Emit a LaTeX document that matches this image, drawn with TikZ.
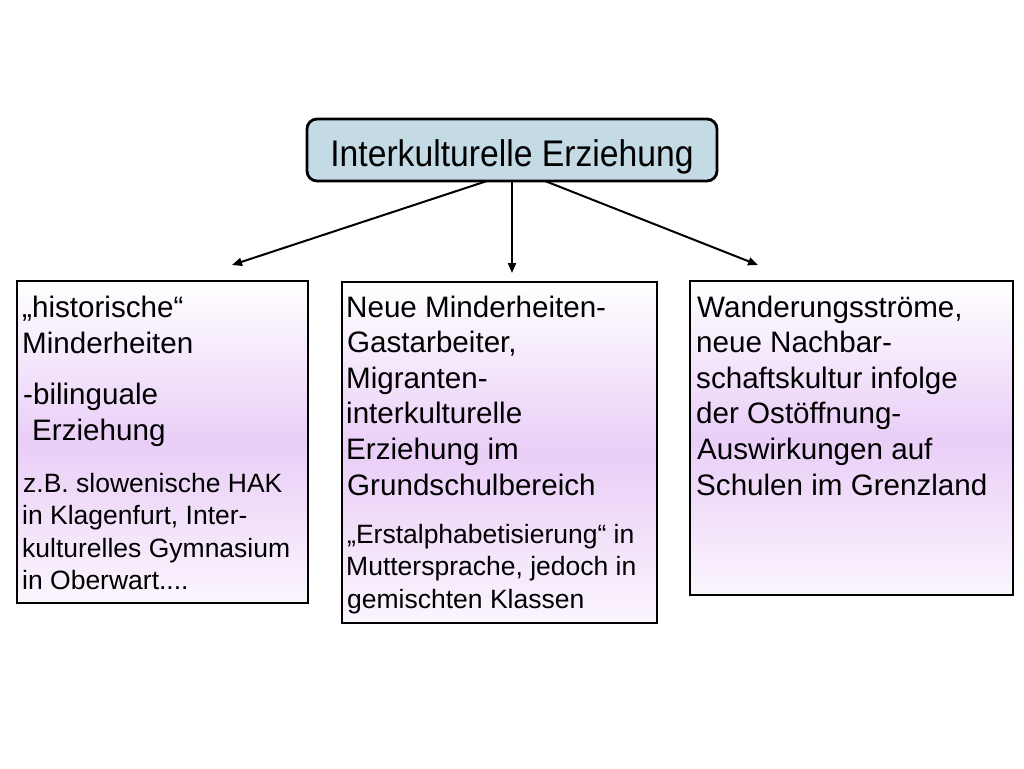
\documentclass[tikz,border=0pt]{standalone}
\usepackage{fontspec}
\setmainfont{Liberation Sans}
\usetikzlibrary{arrows.meta}
\definecolor{titlefill}{RGB}{196,219,229}
\definecolor{purmid}{RGB}{233,206,247}
\definecolor{purbot}{RGB}{251,245,253}
\begin{document}
\begin{tikzpicture}[x=1pt,y=-1pt,
  big/.style={anchor=base west,inner sep=0pt,font=\fontsize{29.6}{35.6}\selectfont},
  small/.style={anchor=base west,inner sep=0pt,font=\fontsize{26.5}{32.5}\selectfont},
  cbox/.style={draw=black,line width=2.2pt,top color=white,bottom color=purbot,middle color=purmid,anchor=north west,inner sep=0pt,outer sep=0pt},
  link/.style={line width=2pt,-{Triangle[length=10pt,width=8pt]}}]
\fill[white] (0,0) rectangle (1024,768);
\useasboundingbox (0,0) rectangle (1024,768);

% title
\node[draw=black,line width=2.8pt,fill=titlefill,rounded corners=10pt,anchor=north west,
      minimum width=410pt,minimum height=62pt,inner sep=0pt,outer sep=0pt] (title) at (307,119) {};
\node[anchor=base,inner sep=0pt,font=\fontsize{33.7}{40}\selectfont] (titletext) at (512,166)
      {\scalebox{1}[1.1]{Interkulturelle Erziehung}};

% boxes
\node[cbox,minimum width=291pt,minimum height=322pt] (bl) at (17,281) {};
\node[cbox,minimum width=315pt,minimum height=341pt] (bm) at (342,282) {};
\node[cbox,minimum width=323pt,minimum height=314pt] (br) at (690,281) {};

% connectors
\coordinate (tl) at (232,265);
\coordinate (tm) at (512,273);
\coordinate (tr) at (758,265);
\draw[link] ([xshift=-25pt]title.south) -- (tl);
\draw[link] (title.south) -- (tm);
\draw[link] ([xshift=33pt]title.south) -- (tr);

% left box text
\node[big] (l1) at (22,317) {„historische“};
\node[big] (l2) at (22,353) {Minderheiten};
\node[big] (l3) at (23,404) {-bilinguale};
\node[big] (l4) at (32,440) {Erziehung};
\node[small] (l5) at (23,492) {z.B. slowenische HAK};
\node[small] (l6) at (22,524.5) {in Klagenfurt, Inter-};
\node[small] (l7) at (22,557) {kulturelles Gymnasium};
\node[small] (l8) at (22,589.5) {in Oberwart....};

% middle box text
\node[big] (m1) at (346,317) {Neue Minderheiten-};
\node[big] (m2) at (347,352.6) {Gastarbeiter,};
\node[big] (m3) at (346,388.2) {Migranten-};
\node[big] (m4) at (346,423.8) {interkulturelle};
\node[big] (m5) at (346,459.4) {Erziehung im};
\node[big] (m6) at (347,495) {Grundschulbereich};
\node[small] (m7) at (347,543) {„Erstalphabetisierung“ in};
\node[small] (m8) at (346,575.5) {Muttersprache, jedoch in};
\node[small] (m9) at (347,608) {gemischten Klassen};

% right box text
\node[big] (r1) at (697,317) {Wanderungsströme,};
\node[big] (r2) at (696,352.6) {neue Nachbar-};
\node[big] (r3) at (696,388.2) {schaftskultur infolge};
\node[big] (r4) at (696,423.8) {der Ostöffnung-};
\node[big] (r5) at (697,459.4) {Auswirkungen auf};
\node[big] (r6) at (696,495) {Schulen im Grenzland};
\end{tikzpicture}
\end{document}
